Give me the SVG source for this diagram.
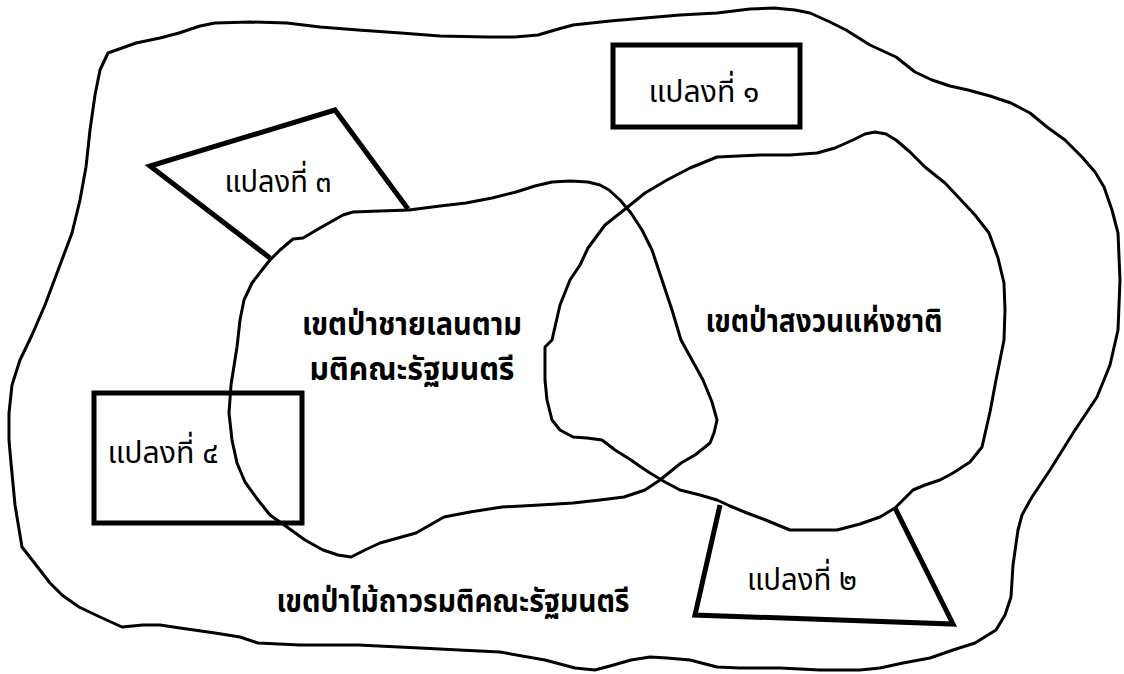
<svg xmlns="http://www.w3.org/2000/svg" width="1124" height="674" viewBox="0 0 1124 674">
<style>
.zone{fill:none;stroke:#000;stroke-width:3;stroke-linejoin:round;stroke-linecap:round}
.plot{fill:none;stroke:#000;stroke-width:5;stroke-linejoin:miter}
.lbl{font-family:"Noto Sans Thai","Noto Sans","DejaVu Sans",sans-serif;font-size:31px;fill:#000;text-anchor:middle}
.zlbl{font-family:"Noto Sans Thai","Noto Sans","DejaVu Sans",sans-serif;font-size:32px;font-weight:bold;fill:#000;text-anchor:middle}
</style>
<rect width="1124" height="674" fill="#fff"/>
<g id="permanent-forest">
<path class="zone" d="M108,53 L136,43 L160,38 L179,33 L200,26 L215,23 L250,22 L287,23 L320,27 L358,30 L401,33 L440,36 L487,37 L515,37 L538,35 L555,30 L573,25 L610,21 L645,18 L680,15 L717,13 L750,9 L774,8 L795,10 L810,13 L830,22 L846,30 L870,45 L896,57 L915,72 L932,80 L950,86 L968,90 L990,96 L1011,103 L1030,113 L1047,127 L1065,140 L1082,157 L1095,172 L1104,187 L1112,210 L1118,233 L1120,280 L1118,330 L1110,365 L1097,397 L1085,415 L1075,430 L1050,470 L1032,497 L1022,515 L1018,530 L1013,565 L1011,597 L1005,615 L996,630 L975,643 L953,650 L930,658 L903,663 L880,668 L860,670 L820,670 L780,668 L740,668 L717,667 L690,660 L667,658 L650,657 L631,660 L610,666 L595,670 L575,668 L545,660 L500,652 L459,650 L420,648 L358,645 L300,645 L258,643 L240,637 L215,633 L180,628 L160,625 L143,625 L122,627 L100,617 L79,607 L62,595 L50,583 L36,565 L22,547 L15,505 L11,463 L9,440 L9,413 L12,385 L20,360 L32,335 L45,305 L60,265 L72,233 L80,200 L86,167 L90,130 L95,95 L100,70 Z"/>
<text class="zlbl" x="453" y="612" textLength="353" lengthAdjust="spacingAndGlyphs">เขตป่าไม้ถาวรมติคณะรัฐมนตรี</text>
</g>
<g id="mangrove-forest">
<path class="zone" d="M270,260 L280,250 L293,239 L303,238 L320,228 L343,215 L353,212 L380,211 L409,210 L440,206 L466,203 L492,198 L516,192 L535,186 L552,182 L570,181 L588,182 L600,185 L609,190 L620,200 L631,213 L642,230 L652,250 L662,280 L672,310 L681,340 L692,360 L703,380 L712,402 L717,420 L714,433 L710,443 L695,455 L681,463 L660,480 L645,490 L624,497 L600,500 L573,503 L540,505 L502,507 L470,512 L444,517 L430,525 L416,533 L398,538 L380,543 L365,550 L351,557 L338,555 L323,550 L305,540 L287,527 L270,515 L258,500 L245,482 L237,463 L232,440 L229,413 L231,385 L237,347 L240,320 L244,300 L252,283 L262,270 Z"/>
<text class="zlbl" x="412" y="335" textLength="220" lengthAdjust="spacingAndGlyphs">เขตป่าชายเลนตาม</text>
<text class="zlbl" x="412" y="380" textLength="205" lengthAdjust="spacingAndGlyphs">มติคณะรัฐมนตรี</text>
</g>
<g id="national-reserve">
<path class="zone" d="M552,340 L560,305 L570,280 L580,265 L588,248 L605,225 L624,210 L645,193 L667,180 L690,168 L717,157 L760,155 L790,155 L817,153 L835,148 L853,140 L865,134 L875,132 L886,134 L896,140 L910,152 L925,167 L945,183 L961,200 L975,215 L989,233 L998,258 L1004,283 L1005,310 L1004,340 L1000,360 L996,380 L990,412 L982,447 L970,462 L953,473 L940,480 L925,485 L913,490 L903,500 L895,508 L880,517 L860,524 L837,530 L815,530 L790,530 L768,521 L747,513 L730,506 L717,500 L700,495 L680,490 L665,482 L650,473 L638,465 L631,460 L615,450 L602,440 L587,438 L573,437 L560,430 L552,420 L547,400 L545,380 L545,360 L545,347 Z"/>
<text class="zlbl" x="824" y="332" textLength="237" lengthAdjust="spacingAndGlyphs">เขตป่าสงวนแห่งชาติ</text>
</g>
<g id="plot-1">
<rect class="plot" x="613" y="45" width="187" height="82"/>
<text class="lbl" x="704" y="102" textLength="111" lengthAdjust="spacingAndGlyphs">แปลงที่ ๑</text>
</g>
<g id="plot-3">
<polyline class="plot" points="408,209 335,110 150,166 270,258"/>
<text class="lbl" x="278" y="192" textLength="107" lengthAdjust="spacingAndGlyphs">แปลงที่ ๓</text>
</g>
<g id="plot-4">
<rect class="plot" x="94" y="393" width="208" height="130"/>
<text class="lbl" x="163" y="463" textLength="111" lengthAdjust="spacingAndGlyphs">แปลงที่ ๔</text>
</g>
<g id="plot-2">
<polyline class="plot" points="720,505 695,615 953,624 895,508"/>
<text class="lbl" x="802" y="590" textLength="110" lengthAdjust="spacingAndGlyphs">แปลงที่ ๒</text>
</g>
<g id="connectors"></g>
</svg>
